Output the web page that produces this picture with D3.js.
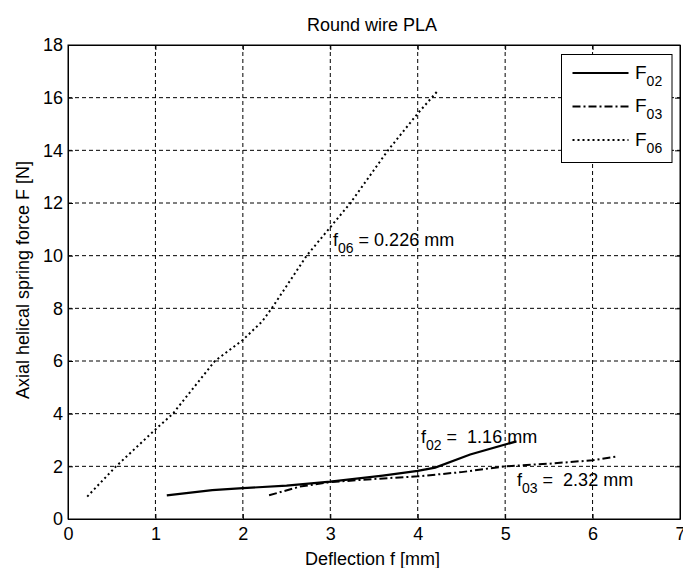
<!DOCTYPE html>
<html>
<head>
<meta charset="utf-8">
<script src="https://cdn.jsdelivr.net/npm/d3@7"></script>
<style>
body{margin:0;background:#fff;}
svg text{font-family:"Liberation Sans",Arial,sans-serif;fill:#000;white-space:pre;}
</style>
</head>
<body>
<svg id="chart" width="683" height="568"></svg>
<script>
const xTicks = [0,1,2,3,4,5,6,7];
const yTicks = [0,2,4,6,8,10,12,14,16,18];

const f02X = [1.13,1.65,2.0,2.5,3.0,3.6,4.0,4.2,4.6,5.13];
const f02Y = [0.9,1.1,1.17,1.27,1.42,1.65,1.83,1.95,2.45,2.95];

const f03X = [2.3,2.65,3.0,3.5,4.0,4.5,5.0,5.5,6.0,6.29];
const f03Y = [0.9,1.23,1.4,1.52,1.62,1.78,2.0,2.1,2.23,2.38];

const f06X = [0.22,0.55,1.0,1.2,1.68,2.0,2.22,2.33,2.73,3.23,3.66,4.0,4.24];
const f06Y = [0.85,2.0,3.4,4.0,6.0,6.8,7.5,8.0,10.0,12.0,14.0,15.4,16.3];

const seriesNames = ["02","03","06"];
const dashes = [null,"8,3,2,3","2,3"];

const svg = d3.select("#chart");
const m = {l:68,t:45,r:3,b:49};
const W = 683-m.l-m.r, H = 568-m.t-m.b;
const g = svg.append("g").attr("transform",`translate(${m.l},${m.t})`);

const x = d3.scaleLinear().domain([0,7]).range([0,W]);
const y = d3.scaleLinear().domain([0,18]).range([H,0]);

g.append("rect").attr("width",W).attr("height",H).attr("fill","#fff");

// grid
g.append("g").selectAll("line").data(xTicks.slice(1,-1)).join("line")
  .attr("x1",d=>x(d)).attr("x2",d=>x(d)).attr("y1",0).attr("y2",H)
  .attr("stroke","#000").attr("stroke-width",1).attr("stroke-dasharray","4,3");
g.append("g").selectAll("line").data(yTicks.slice(1,-1)).join("line")
  .attr("y1",d=>y(d)).attr("y2",d=>y(d)).attr("x1",0).attr("x2",W)
  .attr("stroke","#000").attr("stroke-width",1).attr("stroke-dasharray","4,3");

// axes
const fs = "18px";
const ax = g.append("g").attr("transform",`translate(0,${H})`)
  .call(d3.axisBottom(x).tickValues(xTicks).tickSizeInner(-5).tickSizeOuter(0).tickPadding(8).tickFormat(d3.format("d")));
const ay = g.append("g")
  .call(d3.axisLeft(y).tickValues(yTicks).tickSizeInner(-5).tickSizeOuter(0).tickPadding(5).tickFormat(d3.format("d")));
const at = g.append("g")
  .call(d3.axisTop(x).tickValues(xTicks).tickSizeInner(-5).tickSizeOuter(0).tickFormat(""));
const ar = g.append("g").attr("transform",`translate(${W},0)`)
  .call(d3.axisRight(y).tickValues(yTicks).tickSizeInner(-5).tickSizeOuter(0).tickFormat(""));
[ax,ay,at,ar].forEach(a=>{
  a.selectAll("text").style("font-size",fs).attr("fill","#000");
  a.selectAll("line").attr("stroke","#000");
  a.select(".domain").attr("stroke","#000");
});
g.append("rect").attr("width",W).attr("height",H).attr("fill","none").attr("stroke","#000").attr("stroke-width",1);

// lines
const xs = [f02X,f03X,f06X], ys=[f02Y,f03Y,f06Y];
const line = d3.line().x(d=>x(d[0])).y(d=>y(d[1]));
xs.forEach((xx,i)=>{
  const pts = xx.map((v,j)=>[v,ys[i][j]]);
  g.append("path").datum(pts).attr("d",line).attr("fill","none")
    .attr("stroke","#000").attr("stroke-width",i===0?2.2:2)
    .attr("stroke-dasharray",dashes[i]);
});

// annotations
function annot(px,py,sub,rest){
  const t = svg.append("text").attr("x",px).attr("y",py).style("font-size","18px");
  t.append("tspan").text("f");
  t.append("tspan").attr("dy",7).style("font-size","14px").text(sub);
  t.append("tspan").attr("dy",-7).text(rest);
}
annot(333,246,"06"," = 0.226 mm");
annot(421,443,"02"," =  1.16 mm");
annot(517,486,"03"," =  2.32 mm");

// title and labels
svg.append("text").attr("x",372).attr("y",31).attr("text-anchor","middle").style("font-size","18px").text("Round wire PLA");
svg.append("text").attr("x",372.5).attr("y",565).attr("text-anchor","middle").style("font-size","18px").text("Deflection f [mm]");
svg.append("text").attr("transform",`translate(29,280) rotate(-90)`).attr("text-anchor","middle").style("font-size","18px").text("Axial helical spring force F [N]");

// legend
const lg = svg.append("g").attr("transform","translate(561.5,54.5)");
lg.append("rect").attr("width",110.5).attr("height",108).attr("fill","#fff").attr("stroke","#000");
seriesNames.forEach((s,i)=>{
  const yy = 18.5+i*33.5;
  lg.append("line").attr("x1",11).attr("x2",67).attr("y1",yy).attr("y2",yy)
    .attr("stroke","#000").attr("stroke-width",i===0?2.2:2).attr("stroke-dasharray",dashes[i]);
  const t = lg.append("text").attr("x",73.5).attr("y",yy+5.5).style("font-size","19px");
  t.append("tspan").text("F");
  t.append("tspan").attr("dy",7).style("font-size","14px").text(s);
});
</script>
</body>
</html>
